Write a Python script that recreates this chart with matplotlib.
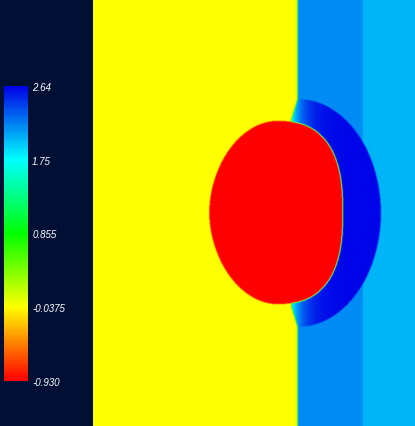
import numpy as np
import matplotlib
matplotlib.use('Agg')
import matplotlib.pyplot as plt
from matplotlib.colors import LinearSegmentedColormap, Normalize
from matplotlib.cm import ScalarMappable

# colour scale
levels = [-0.930, -0.0375, 0.855, 1.75, 2.64]
level_labels = ['-0.930', '-0.0375', '0.855', '1.75', '2.64']
level_colors = ['#ff0000', '#ffff00', '#00ff00', '#00ffff', '#0000e8']

# values of the regions in the field
drop_val = -0.930
pool_val = -0.0375
wall_vals = [2.15, 2.01]
shell_peak = 2.62
shell_tip = 1.80

# geometry (pixel coords of the picture)
wall_x = [297, 362]
drop_c = (275.5, 213.5)
drop_ab = (66.5, 91.5)
shell_c = (297, 214)
shell_ab = (83, 114)

bg = '#000f33'

xs = np.arange(93, 414, 0.5) + 0.25
ys = np.arange(0, 427, 0.5) + 0.25
X, Y = np.meshgrid(xs, ys)

field = np.where(X < wall_x[0], pool_val, np.where(X < wall_x[1], wall_vals[0], wall_vals[1]))

# shell in front of the drop, its tips bend a little into the pool
so = ((X - shell_c[0]) / shell_ab[0]) ** 2 + ((Y - shell_c[1]) / shell_ab[1]) ** 2
bend = 6 * np.clip((shell_ab[1] - np.abs(Y - shell_c[1])) / 20, 0, 1)
shell = (so < 1) & (X >= wall_x[0] - bend)
shell_v = shell_peak - (shell_peak - shell_tip) * np.exp(-(X - (wall_x[0] - 5)) / 11)
field = np.where(shell, shell_v, field)

# the drop
p = np.where(X < drop_c[0], 1.9, 2.6)
r = (np.abs(X - drop_c[0]) / drop_ab[0]) ** p + (np.abs(Y - drop_c[1]) / drop_ab[1]) ** p
field = np.where(r < 1, drop_val, field)

# light smoothing of the edges
pad = np.pad(field, 1, mode='edge')
field = sum(pad[1 + i:1 + i + field.shape[0], 1 + j:1 + j + field.shape[1]]
            for i in (-1, 0, 1) for j in (-1, 0, 1)) / 9.0

cmap = LinearSegmentedColormap.from_list(
    'rb', list(zip([(v - levels[0]) / (levels[-1] - levels[0]) for v in levels], level_colors)))
norm = Normalize(levels[0], levels[-1])

fig = plt.figure(figsize=(4.15, 4.27), dpi=100, facecolor=bg)
ax = fig.add_axes([93 / 415, 0, 321 / 415, 1])
ax.imshow(field, cmap=cmap, norm=norm, extent=(93, 414, 427, 0), aspect='auto')
ax.set_xlim(93, 414)
ax.set_ylim(427, 0)
ax.axis('off')

cax = fig.add_axes([4 / 415, 1 - 382 / 427, 24 / 415, 295 / 427])
cb = fig.colorbar(ScalarMappable(norm=norm, cmap=cmap), cax=cax, ticks=levels)
cb.outline.set_visible(False)
cb.set_ticklabels(level_labels)
cax.tick_params(length=0, pad=3, colors='white')
for t in cax.get_yticklabels():
    t.set_fontstyle('italic')
    t.set_fontfamily('Liberation Sans')
    t.set_fontsize(7)

fig.savefig('out.png', dpi=100, facecolor=bg)
